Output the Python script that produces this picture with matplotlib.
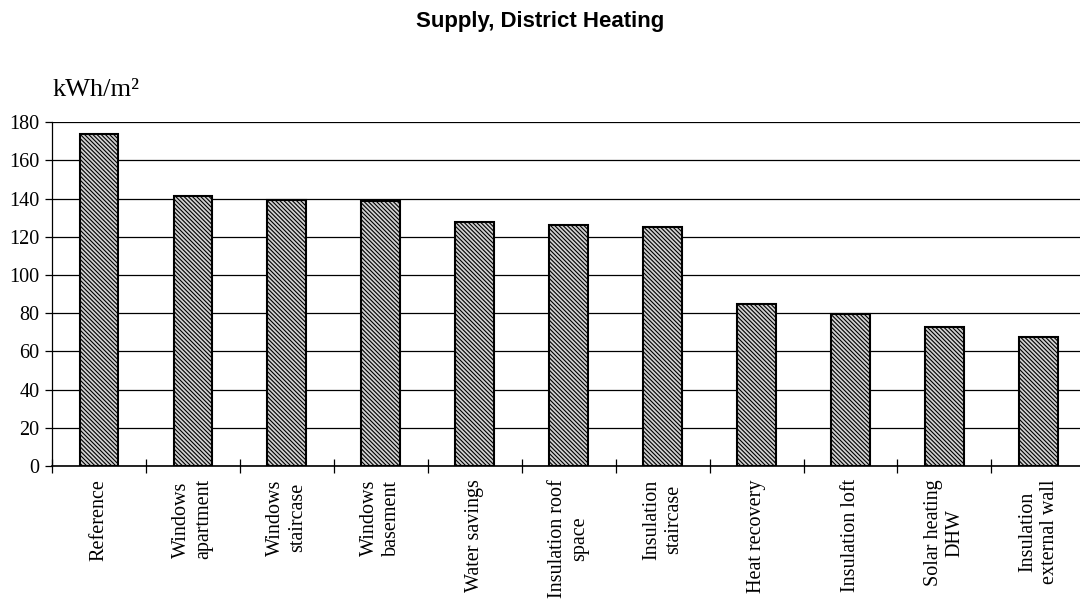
import matplotlib
matplotlib.use('Agg')
import matplotlib.pyplot as plt
import numpy as np

categories = ['Reference', 'Windows\napartment', 'Windows\nstaircase', 'Windows\nbasement',
              'Water savings', 'Insulation roof\nspace', 'Insulation\nstaircase',
              'Heat recovery', 'Insulation loft', 'Solar heating\nDHW', 'Insulation\nexternal wall']
values = [174, 141.5, 139.5, 139, 128, 126, 125, 85, 79.5, 72.5, 67.5]
yticks = [0, 20, 40, 60, 80, 100, 120, 140, 160, 180]

plt.rcParams['hatch.linewidth'] = 0.8
plt.rcParams['hatch.color'] = '#333333'

fig = plt.figure(figsize=(10.8, 6.02), dpi=100)
ax = fig.add_axes([0.048, 0.226, 0.957, 0.571])

x = np.arange(len(categories))
ax.bar(x, values, width=0.41, facecolor='#d0d0d0', edgecolor='black', linewidth=1.5,
       hatch='\\\\\\\\\\\\\\\\', zorder=3)

ax.set_xlim(-0.5, len(categories) - 0.5)
ax.set_ylim(0, 180)
ax.set_yticks(yticks)
ax.set_yticklabels([str(v) for v in yticks], family='Liberation Serif', fontsize=14.5)
ax.yaxis.grid(True, color='black', linewidth=0.9, zorder=0)

# separators between categories
ax.set_xticks(np.arange(len(categories) + 1) - 0.5)
ax.set_xticklabels([])
ax.tick_params(axis='x', direction='inout', length=10, width=0.9)
ax.tick_params(axis='y', direction='out', length=5, width=0.9, pad=4)

for i, c in enumerate(categories):
    ax.text(i, -7, c, rotation=90, ha='center', va='top', multialignment='center',
            family='Liberation Serif', fontsize=14.5, transform=ax.transData)

for s in ['right', 'top']:
    ax.spines[s].set_visible(False)
ax.spines['left'].set_linewidth(0.9)
ax.spines['bottom'].set_linewidth(1.2)

fig.text(0.5, 0.965, 'Supply, District Heating', ha='center', va='center',
         family='Liberation Sans', fontweight='bold', fontsize=16)
fig.text(0.049, 0.85, 'kWh/m²', ha='left', va='center', family='Liberation Serif', fontsize=19)

fig.savefig('out.png', dpi=100)
